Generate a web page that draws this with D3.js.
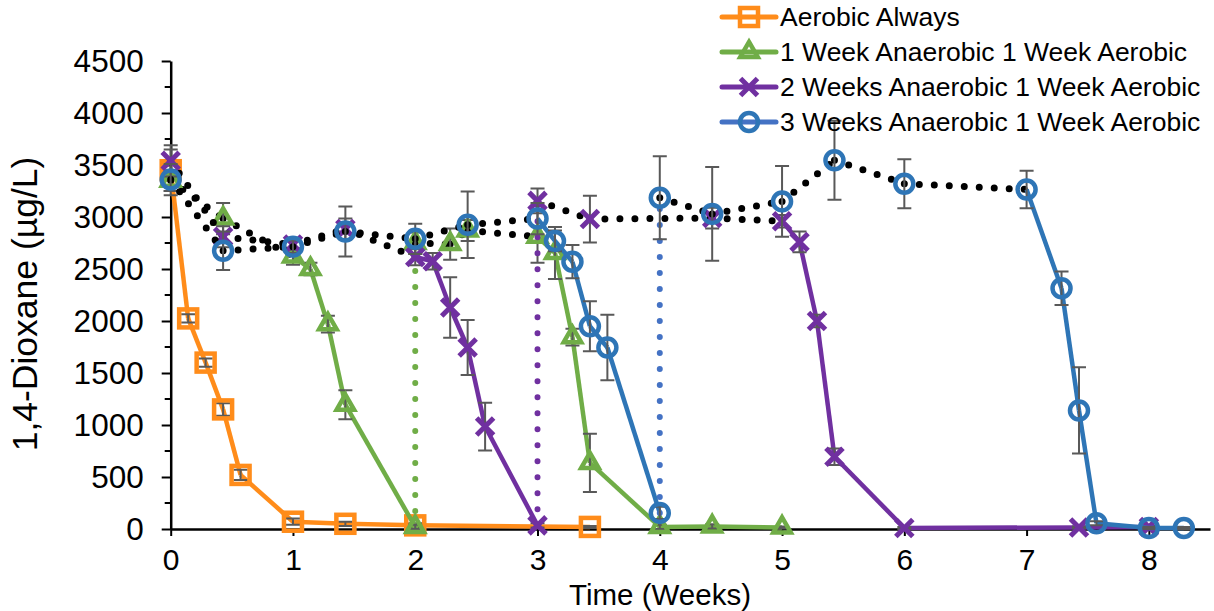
<!DOCTYPE html>
<html>
<head>
<meta charset="utf-8">
<script src="https://cdn.jsdelivr.net/npm/d3@7/dist/d3.min.js"></script>
<style>
  body { margin: 0; background: #fff; }
  svg { display: block; }
  text { font-family: "Liberation Sans", Arial, sans-serif; fill: #000; }
</style>
</head>
<body>
<svg id="chart" width="1214" height="611"></svg>
<script>
// ---- data: 1,4-dioxane concentration (µg/L) vs. sampling day ----
const xTickValues = [0, 1, 2, 3, 4, 5, 6, 7, 8];
const yTickValues = [0, 500, 1000, 1500, 2000, 2500, 3000, 3500, 4000, 4500];
const seriesNames = [
  "Aerobic Always",
  "1 Week Anaerobic 1 Week Aerobic",
  "2 Weeks Anaerobic 1 Week Aerobic",
  "3 Weeks Anaerobic 1 Week Aerobic"
];

// Aerobic Always
const aerobicDays  = [0, 1, 2, 3, 4, 7, 10, 14, 24];
const aerobicConc  = [3450, 2025, 1600, 1150, 520, 70, 50, 35, 20];
const aerobicErr   = [200, 40, 40, 60, 50, 30, 20, 20, 10];
const aerobicPhase = ["aer", "aer", "aer", "aer", "aer", "aer", "aer", "aer"];

// 1 week anaerobic / 1 week aerobic (day 14 re-spiked)
const oneWeekDays  = [0, 3, 7, 8, 9, 10, 14, 14, 16, 17, 21, 22, 23, 24, 28, 31, 35];
const oneWeekConc  = [3350, 2985, 2620, 2500, 1970, 1195, 20, 2750, 2740, 2870, 2810, 2655, 1845, 635, 20, 25, 15];
const oneWeekErr   = [100, 150, 80, 60, 80, 140, 20, 100, 150, 100, 250, 250, 80, 280, 20, 20, 10];
const oneWeekPhase = ["ana", "ana", "aer", "aer", "aer", "aer", "spike", "ana", "ana", "ana",
                      "aer", "aer", "aer", "aer", "aer", "aer"];

// 2 weeks anaerobic / 1 week aerobic (day 21 re-spiked)
const twoWeekDays  = [0, 3, 7, 10, 14, 15, 16, 17, 18, 21, 21, 24, 31, 35, 36, 37, 38, 42, 52, 56];
const twoWeekConc  = [3540, 2810, 2735, 2885, 2615, 2575, 2130, 1745, 985, 35, 3155, 2980, 2990, 2960, 2760, 2000, 695, 10, 15, 20];
const twoWeekErr   = [150, 100, 50, 100, 80, 80, 290, 265, 230, 20, 120, 225, 100, 60, 100, 60, 80, 10, 10, 10];
const twoWeekPhase = ["ana", "ana", "ana", "ana", "aer", "aer", "aer", "aer", "aer", "spike",
                      "ana", "ana", "ana", "aer", "aer", "aer", "aer", "aer", "aer"];

// 3 weeks anaerobic / 1 week aerobic (day 28 re-spiked)
const threeWeekDays  = [0, 3, 7, 10, 14, 17, 21, 22, 23, 24, 25, 28, 28, 31, 35, 38, 42, 49, 51, 52, 53, 56, 58];
const threeWeekConc  = [3360, 2675, 2715, 2860, 2790, 2925, 2985, 2770, 2570, 1950, 1745, 155,
                        3185, 3030, 3150, 3545, 3320, 3265, 2315, 1140, 55, 10, 10];
const threeWeekErr   = [150, 185, 60, 240, 145, 320, 150, 100, 160, 240, 315, 60,
                        400, 450, 340, 380, 235, 180, 160, 415, 20, 10, 10];
const threeWeekPhase = ["ana", "ana", "ana", "ana", "ana", "ana",
                        "aer", "aer", "aer", "aer", "aer", "spike",
                        "ana", "ana", "ana", "ana", "ana",
                        "aer", "aer", "aer", "aer", "aer"];

// ---- styling ----
const palette = {
  orange: "#FF8C1A", green: "#70AD47", purple: "#7030A0",
  blue: "#2E75B6", blueLight: "#4472C4", err: "#595959"
};

const series = [
  { name: seriesNames[0], days: aerobicDays, conc: aerobicConc, err: aerobicErr, phase: aerobicPhase,
    color: palette.orange, spikeColor: palette.orange, legendLine: palette.orange, marker: "square" },
  { name: seriesNames[1], days: oneWeekDays, conc: oneWeekConc, err: oneWeekErr, phase: oneWeekPhase,
    color: palette.green, spikeColor: palette.green, legendLine: palette.green, marker: "triangle" },
  { name: seriesNames[2], days: twoWeekDays, conc: twoWeekConc, err: twoWeekErr, phase: twoWeekPhase,
    color: palette.purple, spikeColor: palette.purple, legendLine: palette.purple, marker: "cross" },
  { name: seriesNames[3], days: threeWeekDays, conc: threeWeekConc, err: threeWeekErr, phase: threeWeekPhase,
    color: palette.blue, spikeColor: palette.blueLight, legendLine: palette.blueLight, marker: "circle" }
];

const svg = d3.select("#chart");
const x = d3.scaleLinear().domain([0, 8.5]).range([170.7, 1210]);
const y = d3.scaleLinear().domain([0, 4500]).range([529, 61]);

// ---- axes ----
const yAxis = svg.append("g")
  .attr("transform", `translate(${x(0)},0)`)
  .call(d3.axisLeft(y).tickValues(yTickValues).tickFormat(d3.format("d"))
    .tickSize(9).tickPadding(18).tickSizeOuter(0));
// minor ticks halfway between labelled ticks
svg.append("g").selectAll("line")
  .data(d3.range(250, 4500, 500))
  .join("line")
  .attr("x1", x(0) - 6).attr("x2", x(0))
  .attr("y1", d => y(d)).attr("y2", d => y(d))
  .attr("stroke", "#000").attr("stroke-width", 2);

const xAxis = svg.append("g")
  .attr("transform", `translate(0,${y(0)})`)
  .call(d3.axisBottom(x).tickValues(xTickValues).tickFormat(d3.format("d"))
    .tickSize(7).tickPadding(13).tickSizeOuter(0));

[yAxis, xAxis].forEach(g => {
  g.attr("font-family", null);
  g.select(".domain").attr("stroke", "#000").attr("stroke-width", 2.5);
  g.selectAll(".tick line").attr("stroke", "#000").attr("stroke-width", 2);
  g.selectAll(".tick text").attr("fill", "#000");
});
yAxis.attr("font-size", 31.5);
xAxis.attr("font-size", 30);

svg.append("text")
  .attr("transform", "translate(37,304) rotate(-90)")
  .attr("text-anchor", "middle")
  .attr("font-size", 35.5)
  .text("1,4-Dioxane (µg/L)");

svg.append("text")
  .attr("x", 660).attr("y", 604.5)
  .attr("text-anchor", "middle")
  .attr("font-size", 29.5)
  .text("Time (Weeks)");

// ---- marks ----
const line = d3.line().x(d => x(d.t)).y(d => y(d.v));

function drawMarker(g, type, cx, cy, color) {
  const sw = 4.5;
  if (type === "square") {
    g.append("rect").attr("x", cx - 9).attr("y", cy - 9).attr("width", 18).attr("height", 18)
      .attr("fill", "none").attr("stroke", color).attr("stroke-width", sw);
  } else if (type === "triangle") {
    const s = 17.5, h = s * Math.sqrt(3) / 2;
    g.append("path")
      .attr("d", `M${cx},${cy - 2 * h / 3}L${cx + s / 2},${cy + h / 3}L${cx - s / 2},${cy + h / 3}Z`)
      .attr("fill", "none").attr("stroke", color).attr("stroke-width", sw).attr("stroke-linejoin", "miter");
  } else if (type === "cross") {
    const r = 8.5;
    g.append("path")
      .attr("d", `M${cx - r},${cy - r}L${cx + r},${cy + r}M${cx - r},${cy + r}L${cx + r},${cy - r}`)
      .attr("fill", "none").attr("stroke", color).attr("stroke-width", 5);
  } else {
    g.append("circle").attr("cx", cx).attr("cy", cy).attr("r", 9)
      .attr("fill", "none").attr("stroke", color).attr("stroke-width", sw);
  }
}

series.forEach(s => {
  const pts = s.days.map((d, i) => ({ t: d / 7, v: s.conc[i], e: s.err[i] }));
  const g = svg.append("g");

  // line segments, styled by incubation phase
  s.phase.forEach((ph, i) => {
    const seg = g.append("path")
      .attr("d", line([pts[i], pts[i + 1]]))
      .attr("fill", "none");
    if (ph === "aer") {
      seg.attr("stroke", s.color).attr("stroke-width", 4.5).attr("stroke-linejoin", "round");
    } else if (ph === "ana") {
      seg.attr("stroke", "#000").attr("stroke-width", 7)
        .attr("stroke-linecap", "round").attr("stroke-dasharray", "0 15");
    } else {
      seg.attr("stroke", s.spikeColor).attr("stroke-width", 6)
        .attr("stroke-linecap", "round").attr("stroke-dasharray", "0 16");
    }
  });

  // error bars
  const eb = g.append("g").attr("stroke", palette.err).attr("stroke-width", 2).attr("fill", "none");
  pts.forEach(p => {
    const px = x(p.t), y1 = y(p.v + p.e), y0 = y(Math.max(0, p.v - p.e));
    eb.append("path")
      .attr("d", `M${px},${y0}L${px},${y1}M${px - 7},${y1}L${px + 7},${y1}M${px - 7},${y0}L${px + 7},${y0}`);
  });

  // markers
  pts.forEach(p => drawMarker(g, s.marker, x(p.t), y(p.v), s.color));
});

// ---- legend ----
const legend = svg.append("g");
series.forEach((s, i) => {
  const ly = 17 + i * 35;
  legend.append("line")
    .attr("x1", 722).attr("x2", 776).attr("y1", ly).attr("y2", ly)
    .attr("stroke", s.legendLine).attr("stroke-width", 5).attr("stroke-linecap", "round");
  drawMarker(legend, s.marker, 749, ly, s.color);
  legend.append("text")
    .attr("x", 780).attr("y", ly).attr("dy", "0.35em")
    .attr("font-size", 26.5)
    .text(s.name);
});
</script>
</body>
</html>
